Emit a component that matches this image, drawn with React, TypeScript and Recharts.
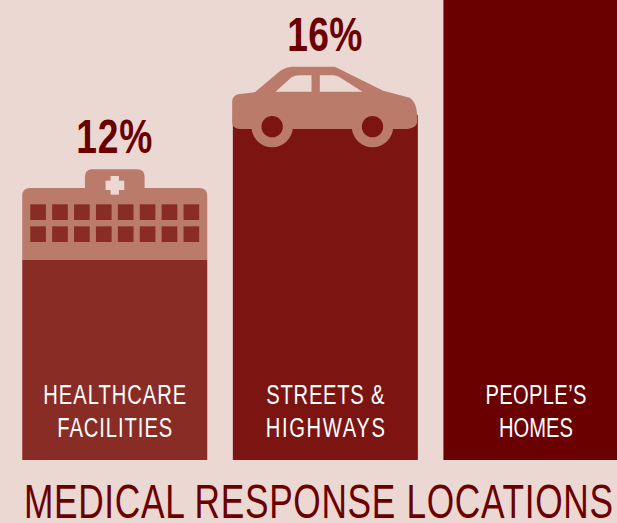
import React from 'react';
import { BarChart, Bar, XAxis, YAxis, LabelList } from 'recharts';

const categories = ['HEALTHCARE FACILITIES', 'STREETS & HIGHWAYS', 'PEOPLE’S HOMES'];
// pictorial bars: drawn heights do not follow the percentages, so they are read off the picture
const drawnHeights = [200, 345, 460];
const percents = ['12%', '16%', ''];
const lineOne = ['HEALTHCARE', 'STREETS &', 'PEOPLE’S'];
const lineTwo = ['FACILITIES', 'HIGHWAYS', 'HOMES'];

const data = categories.map((name, i) => ({
  name,
  height: drawnHeights[i],
  percent: percents[i],
  lineOne: lineOne[i],
  lineTwo: lineTwo[i],
}));

const BG = '#ecd8d2';
const ICON = '#bb7b6b';
const DARK = '#6b0000';
const barColors = ['#8a2c26', '#7c1512', '#6b0000'];
const FONT = '"Liberation Sans", sans-serif';

const lineOneWidths = [143, 118, 101];
const lineTwoWidths = [115, 119, 74];
const percentWidths = [76, 75, 0];
const percentOffsets = [107, 64, 0];

const windowCols = [0, 1, 2, 3, 4, 5, 6, 7];
const windowRows = [313, 379];

// no condensed font here, so squeeze the glyphs and let the spacing fill out to the width
const NarrowText = ({ x, y, squeeze, width, anchor = 'middle', children, ...rest }: any) => (
  <text
    transform={`scale(${squeeze},1)`}
    x={x / squeeze}
    y={y}
    textAnchor={anchor}
    fontFamily={FONT}
    textLength={width / squeeze}
    lengthAdjust="spacing"
    {...rest}
  >
    {children}
  </text>
);

// icons are traced at 3x, hence the scale
const Hospital = ({ x, y, color }: any) => (
  <g transform={`translate(${x - 22},${y - 160}) scale(${1 / 3})`}>
    <rect x={254} y={208} width={179} height={80} rx={20} fill={ICON} />
    <path d="M66 288 Q66 264 90 264 L597 264 Q621 264 621 288 L621 480 L66 480 Z" fill={ICON} />
    <rect x={331} y={228} width={25} height={56} fill={BG} />
    <rect x={316} y={242} width={56} height={28} fill={BG} />
    {windowRows.map((wy) =>
      windowCols.map((c) => (
        <rect key={`${wy}-${c}`} x={90 + c * 65.7} y={wy} width={47} height={47} fill={color} />
      )),
    )}
  </g>
);

const Car = ({ x, y, color }: any) => (
  <g transform={`translate(${x - 13},${y - 115}) scale(${1 / 3})`}>
    <path
      d="M37 305 Q37 288 55 283 L105 277 L170 222 Q190 202 215 200 L345 200 L490 272 L570 293 Q590 305 592 345 L592 365 Q590 387 550 387 L60 387 Q37 385 37 365 Z"
      fill={ICON}
    />
    <path d="M167 275 L215 232 Q225 226 240 226 L275 226 L275 275 Z" fill={BG} />
    <path d="M300 226 L340 226 Q352 227 362 233 L428 275 L300 275 Z" fill={BG} />
    <circle cx={157} cy={380} r={62} fill={ICON} />
    <circle cx={157} cy={380} r={32} fill={color} />
    <circle cx={458} cy={380} r={62} fill={ICON} />
    <circle cx={458} cy={380} r={32} fill={color} />
  </g>
);

const PictorialBar = ({ x, y, width, height, index }: any) => {
  const color = barColors[index];
  return (
    <g>
      <rect x={x} y={y} width={width} height={height} fill={color} />
      {index === 0 && <Hospital x={x} y={y} color={color} />}
      {index === 1 && <Car x={x} y={y} color={color} />}
    </g>
  );
};

const PercentLabel = ({ x, y, width, value, index }: any) =>
  value ? (
    <NarrowText
      x={x + width / 2 - 0.5}
      y={y - percentOffsets[index]}
      squeeze={0.76}
      width={percentWidths[index]}
      fontWeight={700}
      fontSize={49}
      fill={DARK}
    >
      {value}
    </NarrowText>
  ) : null;

const lineLabel = (widths: number[], fromBottom: number) =>
  ({ x, y, width, height, value, index }: any) => (
    <NarrowText
      x={x + width / 2}
      y={y + height - fromBottom}
      squeeze={0.72}
      width={widths[index]}
      fontSize={28}
      fill="#ffffff"
    >
      {value}
    </NarrowText>
  );

export default function App() {
  return (
    <div style={{ position: 'absolute', left: 0, top: 0, width: 617, height: 523, overflow: 'hidden', background: BG }}>
      <BarChart
        width={641}
        height={523}
        data={data}
        margin={{ top: 0, right: 0, bottom: 63, left: 9.25 }}
        barSize={185}
      >
        <XAxis dataKey="name" hide />
        <YAxis hide domain={[0, 460]} />
        <Bar dataKey="height" isAnimationActive={false} shape={<PictorialBar />}>
          <LabelList dataKey="percent" content={<PercentLabel />} />
          <LabelList dataKey="lineOne" content={lineLabel(lineOneWidths, 56)} />
          <LabelList dataKey="lineTwo" content={lineLabel(lineTwoWidths, 23)} />
        </Bar>
        <NarrowText x={24} y={518} squeeze={0.72} width={589} anchor="start" fontSize={49} fill={DARK}>
          MEDICAL RESPONSE LOCATIONS
        </NarrowText>
      </BarChart>
    </div>
  );
}
